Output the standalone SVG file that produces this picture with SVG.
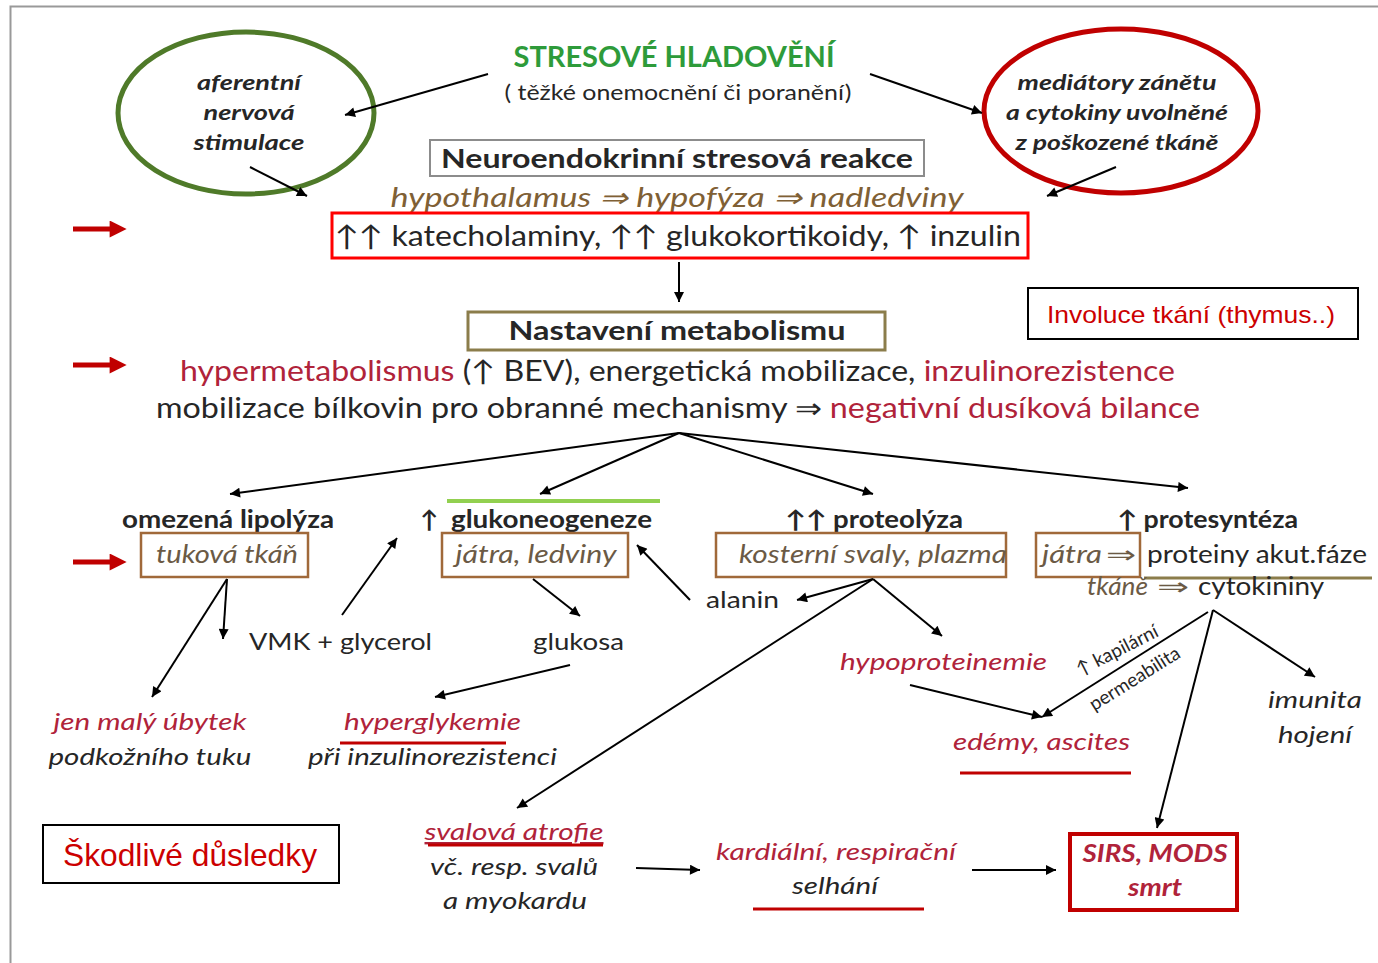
<svg xmlns="http://www.w3.org/2000/svg" width="1378" height="963" viewBox="0 0 1378 963">
<defs>
<style>
text{font-family:Lato,"Open Sans","Liberation Sans",sans-serif;fill:#262626}
.b{font-weight:bold}
.i{font-style:italic}
.red{fill:#B0233A}
.brn{fill:#7F6035}
.gbr{fill:#6B5A45}
.ar{font-family:"Liberation Sans",Arial,sans-serif;fill:#CC0000}
.conn line{stroke:#000;stroke-width:2;fill:none;marker-end:url(#ah)}
.bbox{fill:none;stroke:#A0693A;stroke-width:2.5}
</style>
<marker id="ah" viewBox="0 0 10 10" refX="10" refY="5" markerWidth="13" markerHeight="10" orient="auto" markerUnits="userSpaceOnUse"><path d="M0,0 L10,5 L0,10 z" fill="#000"/></marker>
<marker id="ahr" viewBox="0 0 10 10" refX="2" refY="5" markerWidth="18" markerHeight="17" orient="auto" markerUnits="userSpaceOnUse"><path d="M0,0 L10,5 L0,10 z" fill="#C00000"/></marker>
</defs>
<rect width="1378" height="963" fill="#fff"/>
<rect x="10.5" y="6.5" width="1400" height="1000" fill="none" stroke="#999" stroke-width="2"/>

<g id="title">
<text x="674" y="67" text-anchor="middle" font-size="28" class="b" style="fill:#2E9B3A" textLength="321" lengthAdjust="spacingAndGlyphs">STRESOVÉ HLADOVĚNÍ</text>
<text x="678" y="100" text-anchor="middle" font-size="22" textLength="347" lengthAdjust="spacingAndGlyphs">( těžké onemocnění či poranění)</text>
</g>

<g id="aferentni">
<ellipse cx="246" cy="113" rx="128" ry="81" fill="none" stroke="#4F7A29" stroke-width="5"/>
<text x="249" y="90" text-anchor="middle" font-size="21" class="b i" textLength="104" lengthAdjust="spacingAndGlyphs">aferentní</text>
<text x="249" y="120" text-anchor="middle" font-size="21" class="b i" textLength="91" lengthAdjust="spacingAndGlyphs">nervová</text>
<text x="249" y="150" text-anchor="middle" font-size="21" class="b i" textLength="111" lengthAdjust="spacingAndGlyphs">stimulace</text>
</g>

<g id="mediatory">
<ellipse cx="1121" cy="111" rx="137" ry="82" fill="none" stroke="#C00000" stroke-width="5"/>
<text x="1117" y="90" text-anchor="middle" font-size="21" class="b i" textLength="199" lengthAdjust="spacingAndGlyphs">mediátory zánětu</text>
<text x="1117" y="120" text-anchor="middle" font-size="21" class="b i" textLength="222" lengthAdjust="spacingAndGlyphs">a cytokiny uvolněné</text>
<text x="1117" y="150" text-anchor="middle" font-size="21" class="b i" textLength="203" lengthAdjust="spacingAndGlyphs">z poškozené tkáně</text>
</g>

<g id="neuro">
<rect x="430" y="140" width="494" height="36" fill="none" stroke="#8C8C8C" stroke-width="2"/>
<text x="677" y="168" text-anchor="middle" font-size="27" class="b" textLength="472" lengthAdjust="spacingAndGlyphs">Neuroendokrinní stresová reakce</text>
</g>

<g id="osa">
<text x="677" y="207" text-anchor="middle" font-size="27" class="i brn" textLength="573" lengthAdjust="spacingAndGlyphs">hypothalamus ⇒ hypofýza ⇒ nadledviny</text>
</g>

<g id="hormony">
<rect x="332" y="213" width="696" height="45" fill="none" stroke="#FF0000" stroke-width="3"/>
<text x="678" y="246" text-anchor="middle" font-size="28" textLength="686" lengthAdjust="spacingAndGlyphs">↑↑ katecholaminy, ↑↑ glukokortikoidy, ↑ inzulin</text>
</g>

<g id="nastaveni">
<rect x="468" y="312" width="417" height="38" fill="none" stroke="#8B7D4B" stroke-width="3"/>
<text x="677" y="340" text-anchor="middle" font-size="27" class="b" textLength="337" lengthAdjust="spacingAndGlyphs">Nastavení metabolismu</text>
</g>

<g id="involuce">
<rect x="1028" y="288" width="330" height="51" fill="none" stroke="#000" stroke-width="2"/>
<text x="1191" y="323" text-anchor="middle" font-size="24" class="ar" textLength="288" lengthAdjust="spacingAndGlyphs">Involuce tkání (thymus..)</text>
</g>

<g id="metabolismus">
<text x="180" y="381" font-size="28" textLength="995" lengthAdjust="spacingAndGlyphs"><tspan class="red">hypermetabolismus</tspan> (↑ BEV), energetická mobilizace, <tspan class="red">inzulinorezistence</tspan></text>
<text x="156" y="418" font-size="28" textLength="1044" lengthAdjust="spacingAndGlyphs">mobilizace bílkovin pro obranné mechanismy ⇒ <tspan class="red">negativní dusíková bilance</tspan></text>
</g>

<g id="lipolyza">
<text x="122" y="528" font-size="24" class="b" textLength="212" lengthAdjust="spacingAndGlyphs">omezená lipolýza</text>
<rect x="141" y="533" width="167" height="44" class="bbox"/>
<text x="227" y="563" text-anchor="middle" font-size="25" class="i gbr" textLength="142" lengthAdjust="spacingAndGlyphs">tuková tkáň</text>
</g>

<g id="glukoneogeneze">
<line x1="447" y1="501" x2="660" y2="501" stroke="#92D050" stroke-width="4"/>
<text x="420" y="528" font-size="24" class="b">↑</text>
<text x="451" y="528" font-size="24" class="b" textLength="201" lengthAdjust="spacingAndGlyphs">glukoneogeneze</text>
<rect x="442" y="533" width="186" height="44" class="bbox"/>
<text x="536" y="563" text-anchor="middle" font-size="25" class="i gbr" textLength="161" lengthAdjust="spacingAndGlyphs">játra, ledviny</text>
</g>

<g id="proteolyza">
<text x="785" y="528" font-size="24" class="b" textLength="178" lengthAdjust="spacingAndGlyphs">↑↑ proteolýza</text>
<rect x="716" y="533" width="290" height="44" class="bbox"/>
<text x="739" y="563" font-size="25" class="i gbr" textLength="268" lengthAdjust="spacingAndGlyphs">kosterní svaly, plazma</text>
</g>

<g id="protesynteza">
<text x="1117" y="528" font-size="24" class="b" textLength="181" lengthAdjust="spacingAndGlyphs">↑ protesyntéza</text>
<rect x="1036" y="533" width="104" height="44" class="bbox"/>
<text x="1042" y="563" font-size="25" class="i gbr" textLength="60" lengthAdjust="spacingAndGlyphs">játra</text>
<text x="1106" y="563" font-size="24" class="gbr" textLength="30" lengthAdjust="spacingAndGlyphs">⇒</text>
<text x="1147" y="563" font-size="25" textLength="220" lengthAdjust="spacingAndGlyphs">proteiny akut.fáze</text>
<line x1="1144" y1="578" x2="1372" y2="578" stroke="#8B7D4B" stroke-width="3"/>
<text x="1087" y="595" font-size="25" class="i gbr" textLength="61" lengthAdjust="spacingAndGlyphs">tkáně</text>
<text x="1157" y="595" font-size="24" class="gbr" textLength="32" lengthAdjust="spacingAndGlyphs">⇒</text>
<text x="1198" y="595" font-size="25" textLength="126" lengthAdjust="spacingAndGlyphs">cytokininy</text>
</g>

<g id="vmk"><text x="249" y="650" font-size="24" textLength="183" lengthAdjust="spacingAndGlyphs">VMK + glycerol</text></g>
<g id="glukosa"><text x="533" y="650" font-size="24" textLength="91" lengthAdjust="spacingAndGlyphs">glukosa</text></g>
<g id="alanin"><text x="706" y="608" font-size="24" textLength="73" lengthAdjust="spacingAndGlyphs">alanin</text></g>
<g id="hypoproteinemie"><text x="840" y="670" font-size="24" class="i red" textLength="207" lengthAdjust="spacingAndGlyphs">hypoproteinemie</text></g>

<g id="ubytek">
<text x="150" y="730" text-anchor="middle" font-size="24" class="i red" textLength="193" lengthAdjust="spacingAndGlyphs">jen malý úbytek</text>
<text x="150" y="765" text-anchor="middle" font-size="24" class="i" textLength="203" lengthAdjust="spacingAndGlyphs">podkožního tuku</text>
</g>

<g id="hyperglykemie">
<text x="344" y="730" font-size="24" class="i red" textLength="177" lengthAdjust="spacingAndGlyphs">hyperglykemie</text>
<line x1="340" y1="743" x2="506" y2="743" stroke="#C00000" stroke-width="3"/>
<text x="308" y="765" font-size="24" class="i" textLength="249" lengthAdjust="spacingAndGlyphs">při inzulinorezistenci</text>
</g>

<g id="edemy">
<text x="953" y="750" font-size="24" class="i red" textLength="177" lengthAdjust="spacingAndGlyphs">edémy, ascites</text>
<line x1="960" y1="773" x2="1131" y2="773" stroke="#C00000" stroke-width="3"/>
</g>

<g id="imunita">
<text x="1315" y="708" text-anchor="middle" font-size="24" class="i" textLength="94" lengthAdjust="spacingAndGlyphs">imunita</text>
<text x="1315" y="743" text-anchor="middle" font-size="24" class="i" textLength="74" lengthAdjust="spacingAndGlyphs">hojení</text>
</g>

<g id="atrofie">
<text x="514" y="840" text-anchor="middle" font-size="24" class="i red" text-decoration="underline" textLength="179" lengthAdjust="spacingAndGlyphs">svalová atrofie</text>
<line x1="428" y1="845" x2="603" y2="845" stroke="#C00000" stroke-width="3"/>
<text x="514" y="875" text-anchor="middle" font-size="24" class="i" textLength="168" lengthAdjust="spacingAndGlyphs">vč. resp. svalů</text>
<text x="515" y="909" text-anchor="middle" font-size="24" class="i" textLength="144" lengthAdjust="spacingAndGlyphs">a myokardu</text>
</g>

<g id="selhani">
<text x="836" y="860" text-anchor="middle" font-size="24" class="i red" textLength="240" lengthAdjust="spacingAndGlyphs">kardiální, respirační</text>
<text x="835" y="894" text-anchor="middle" font-size="24" class="i" textLength="86" lengthAdjust="spacingAndGlyphs">selhání</text>
<line x1="753" y1="909" x2="924" y2="909" stroke="#C00000" stroke-width="3"/>
</g>

<g id="sirs">
<rect x="1070" y="834" width="167" height="76" fill="none" stroke="#C00000" stroke-width="4"/>
<text x="1155" y="862" text-anchor="middle" font-size="24" class="b i red" textLength="145" lengthAdjust="spacingAndGlyphs">SIRS, MODS</text>
<text x="1155" y="896" text-anchor="middle" font-size="24" class="b i red" textLength="54" lengthAdjust="spacingAndGlyphs">smrt</text>
</g>

<g id="skodlive">
<rect x="43" y="825" width="296" height="58" fill="none" stroke="#000" stroke-width="2"/>
<text x="190" y="866" text-anchor="middle" font-size="32" class="ar" textLength="254" lengthAdjust="spacingAndGlyphs">Škodlivé důsledky</text>
</g>

<g id="permeabilita">
<text transform="translate(1120,656) rotate(-27)" text-anchor="middle" font-size="19">↑ kapilární</text>
<text transform="translate(1138,684) rotate(-32)" text-anchor="middle" font-size="19">permeabilita</text>
</g>

<g id="connectors" class="conn">
<line x1="488" y1="74" x2="345" y2="115"/>
<line x1="870" y1="74" x2="982" y2="113"/>
<line x1="250" y1="167" x2="307" y2="196"/>
<line x1="1116" y1="167" x2="1047" y2="196"/>
<line x1="679" y1="262" x2="679" y2="302"/>
<line x1="679" y1="433" x2="230" y2="494"/>
<line x1="679" y1="433" x2="540" y2="494"/>
<line x1="679" y1="433" x2="873" y2="494"/>
<line x1="679" y1="433" x2="1188" y2="488"/>
<line x1="227" y1="579" x2="223" y2="639"/>
<line x1="227" y1="579" x2="152" y2="697"/>
<line x1="342" y1="615" x2="397" y2="538"/>
<line x1="533" y1="579" x2="580" y2="616"/>
<line x1="690" y1="600" x2="637" y2="545"/>
<line x1="570" y1="665" x2="435" y2="697"/>
<line x1="873" y1="579" x2="797" y2="600"/>
<line x1="873" y1="579" x2="942" y2="636"/>
<line x1="873" y1="579" x2="517" y2="808"/>
<line x1="910" y1="685" x2="1042" y2="717"/>
<line x1="1208" y1="612" x2="1042" y2="717"/>
<line x1="1213" y1="610" x2="1157" y2="828"/>
<line x1="1213" y1="610" x2="1315" y2="677"/>
<line x1="636" y1="868" x2="700" y2="870"/>
<line x1="972" y1="870" x2="1056" y2="870"/>
<line x1="73" y1="229" x2="113" y2="229" style="stroke:#C00000;stroke-width:5;marker-end:url(#ahr)"/>
<line x1="73" y1="365" x2="113" y2="365" style="stroke:#C00000;stroke-width:5;marker-end:url(#ahr)"/>
<line x1="73" y1="562" x2="113" y2="562" style="stroke:#C00000;stroke-width:5;marker-end:url(#ahr)"/>
</g>
</svg>
